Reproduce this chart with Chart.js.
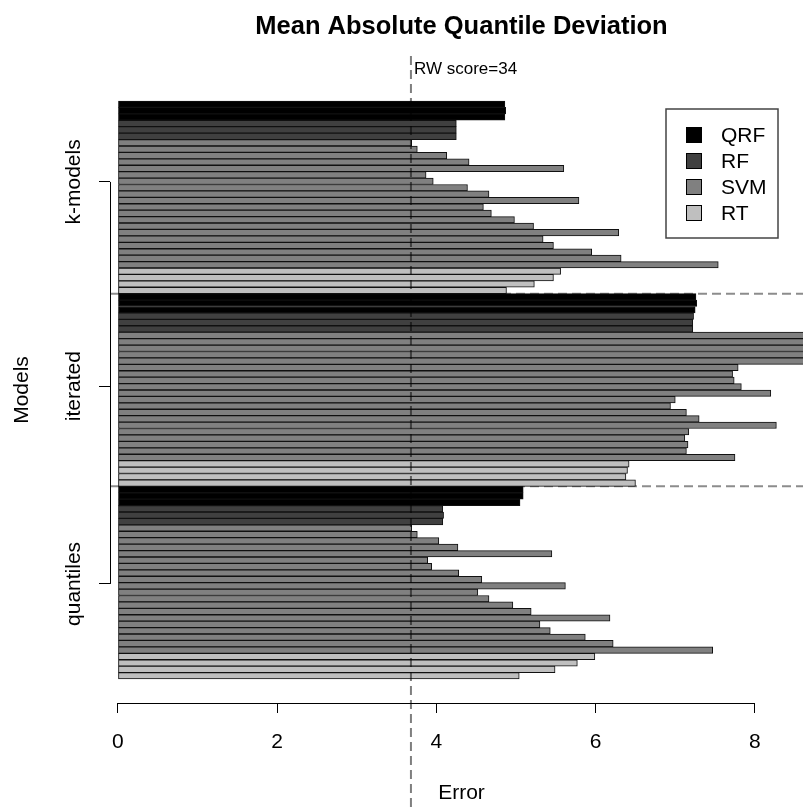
<!DOCTYPE html>
<html>
<head>
<meta charset="utf-8">
<script src="https://cdn.jsdelivr.net/npm/chart.js@4.4.0/dist/chart.umd.min.js"></script>
<style>
html,body{margin:0;padding:0;background:#fff;overflow:hidden;}
canvas{display:block;}
</style>
</head>
<body>
<canvas id="c" width="813" height="808" style="width:813px;height:808px"></canvas>
<script>
// ---------------- data ----------------
const groupNames = ['k-models', 'iterated', 'quantiles'];   // top to bottom
const methodNames = ['QRF', 'RF', 'SVM', 'RT'];
const methodColors = ['#000000', '#404040', '#808080', '#bfbfbf'];

// k-models (bars listed top to bottom)
const qrfK = [4.86, 4.87, 4.86];
const rfK  = [4.25, 4.25, 4.25];
const svmK = [3.69, 3.76, 4.13, 4.41, 5.60, 3.87, 3.96, 4.39, 4.66, 5.79,
              4.59, 4.69, 4.98, 5.22, 6.29, 5.34, 5.47, 5.95, 6.32, 7.54];
const rtK  = [5.56, 5.47, 5.23, 4.88];

// iterated
const qrfI = [7.26, 7.27, 7.25];
const rfI  = [7.23, 7.22, 7.22];
const svmI = [9.00, 8.95, 9.00, 9.10, 9.60, 7.79, 7.72, 7.74, 7.83, 8.20,
              7.00, 6.94, 7.14, 7.30, 8.27, 7.17, 7.12, 7.16, 7.14, 7.75];
const rtI  = [6.42, 6.40, 6.38, 6.50];

// quantiles
const qrfQ = [5.09, 5.09, 5.05];
const rfQ  = [4.08, 4.09, 4.08];
const svmQ = [3.69, 3.76, 4.03, 4.27, 5.45, 3.89, 3.94, 4.28, 4.57, 5.62,
              4.52, 4.66, 4.96, 5.19, 6.18, 5.30, 5.43, 5.87, 6.22, 7.47];
const rtQ  = [5.99, 5.77, 5.49, 5.04];

const xTickValues = [0, 2, 4, 6, 8];
const groupTickPositions = [12.1, 43.9, 74.7];   // bar-index units
const rwValue = 3.68;
const rwScore = 34;

// ---------------- build datasets ----------------
const groupSeries = [
  [qrfK, rfK, svmK, rtK],
  [qrfI, rfI, svmI, rtI],
  [qrfQ, rfQ, svmQ, rtQ]
];
const datasets = methodNames.map((name, m) => ({
  label: name,
  data: [],
  backgroundColor: methodColors[m],
  borderColor: '#111',
  borderWidth: 1,
  borderSkipped: false,
  grouped: false,
  categoryPercentage: 1,
  barPercentage: 1
}));
let pos = 0;
groupSeries.forEach(series => {
  series.forEach((vals, m) => {
    vals.forEach(v => { datasets[m].data.push({ x: v, y: pos }); pos++; });
  });
});
const totalBars = pos;
const groupSize = totalBars / groupNames.length;
const yPad = 3.74;

const FONT = "'Liberation Sans', Arial, Helvetica, sans-serif";
Chart.defaults.font.family = FONT;
Chart.defaults.color = '#000';

const overlay = {
  id: 'overlay',
  beforeDatasetsDraw(chart) {
    const { ctx, chartArea, scales: { y } } = chart;
    ctx.save();
    ctx.setLineDash([9, 5]);
    ctx.strokeStyle = 'rgba(0,0,0,0.45)';
    ctx.lineWidth = 2;
    for (let g = 1; g < groupNames.length; g++) {
      const py = y.getPixelForValue(g * groupSize - 0.5);
      ctx.beginPath();
      ctx.moveTo(chartArea.left, py);
      ctx.lineTo(chartArea.right, py);
      ctx.stroke();
    }
    ctx.restore();
  },
  afterDraw(chart) {
    const { ctx, chartArea, scales: { x, y } } = chart;
    ctx.save();
    // x axis line (from first to last tick)
    ctx.strokeStyle = '#000';
    ctx.lineWidth = 1;
    const ax = Math.round(chartArea.bottom) + 0.5;
    ctx.beginPath();
    ctx.moveTo(x.getPixelForValue(xTickValues[0]), ax);
    ctx.lineTo(x.getPixelForValue(xTickValues[xTickValues.length - 1]), ax);
    ctx.stroke();
    // y axis line (from first to last tick)
    const ay = Math.round(chartArea.left) + 0.5;
    ctx.beginPath();
    ctx.moveTo(ay, y.getPixelForValue(groupTickPositions[0]));
    ctx.lineTo(ay, y.getPixelForValue(groupTickPositions[groupTickPositions.length - 1]));
    ctx.stroke();
    // y group labels (rotated)
    ctx.fillStyle = '#000';
    ctx.font = '21px ' + FONT;
    ctx.textAlign = 'center';
    ctx.textBaseline = 'alphabetic';
    groupTickPositions.forEach((p, i) => {
      ctx.save();
      ctx.translate(80, y.getPixelForValue(p));
      ctx.rotate(-Math.PI / 2);
      ctx.fillText(groupNames[i], 0, 0);
      ctx.restore();
    });
    // RW reference line
    const rx = x.getPixelForValue(rwValue);
    ctx.save();
    ctx.setLineDash([9, 5]);
    ctx.strokeStyle = 'rgba(0,0,0,0.5)';
    ctx.lineWidth = 2;
    ctx.beginPath();
    ctx.moveTo(rx, 56);
    ctx.lineTo(rx, chart.height);
    ctx.stroke();
    ctx.restore();
    ctx.font = '17px ' + FONT;
    ctx.textAlign = 'left';
    ctx.textBaseline = 'middle';
    ctx.fillText('RW score=' + rwScore, rx + 3, 69);
    // legend
    const lx = 666, ly = 109, lw = 112, lh = 129;
    ctx.fillStyle = '#fff';
    ctx.fillRect(lx, ly, lw, lh);
    ctx.strokeStyle = '#444';
    ctx.lineWidth = 1.5;
    ctx.strokeRect(lx, ly, lw, lh);
    ctx.font = '21px ' + FONT;
    chart.data.datasets.forEach((ds, i) => {
      const cy = 135 + i * 26;
      ctx.fillStyle = ds.backgroundColor;
      ctx.fillRect(686, cy - 8, 16, 16);
      ctx.strokeStyle = '#000';
      ctx.lineWidth = 1;
      ctx.strokeRect(686.5, cy - 7.5, 15, 15);
      ctx.fillStyle = '#000';
      ctx.textAlign = 'left';
      ctx.textBaseline = 'middle';
      ctx.fillText(ds.label, 721, cy + 1);
    });
    ctx.restore();
  }
};

new Chart(document.getElementById('c'), {
  type: 'bar',
  data: { datasets },
  options: {
    indexAxis: 'y',
    responsive: false,
    devicePixelRatio: 1,
    animation: false,
    layout: { padding: 0 },
    plugins: {
      legend: { display: false },
      tooltip: { enabled: false },
      title: {
        display: true,
        text: 'Mean Absolute Quantile Deviation',
        fullSize: false,
        color: '#000',
        font: { size: 25.5, weight: 'bold', family: FONT, lineHeight: 1.2 },
        padding: { top: 12, bottom: 34.4 }
      }
    },
    scales: {
      x: {
        type: 'linear',
        offset: false,
        min: -0.1,
        max: 8.73,
        afterFit(s) { s.height = 105; },
        afterBuildTicks(s) { s.ticks = xTickValues.map(v => ({ value: v })); },
        border: { display: false },
        grid: { offset: false, drawOnChartArea: false, drawTicks: true, tickLength: 10, color: '#000', lineWidth: 1 },
        ticks: { font: { size: 21 }, color: '#000', padding: 17, maxRotation: 0 },
        title: { display: true, text: 'Error', color: '#000', font: { size: 21, lineHeight: 1.2 }, padding: { top: 0, bottom: 2.4 } }
      },
      y: {
        type: 'linear',
        offset: false,
        reverse: true,
        min: -0.5 - yPad,
        max: totalBars - 0.5 + yPad,
        afterFit(s) { s.width = 110; },
        afterBuildTicks(s) { s.ticks = groupTickPositions.map(v => ({ value: v })); },
        border: { display: false },
        grid: { offset: false, drawOnChartArea: false, drawTicks: true, tickLength: 11, color: '#000', lineWidth: 1 },
        ticks: { display: false },
        title: { display: true, text: 'Models', color: '#000', font: { size: 21, lineHeight: 1.2 }, padding: { top: 9.4, bottom: 0 } }
      }
    }
  },
  plugins: [overlay]
});
</script>
</body>
</html>
